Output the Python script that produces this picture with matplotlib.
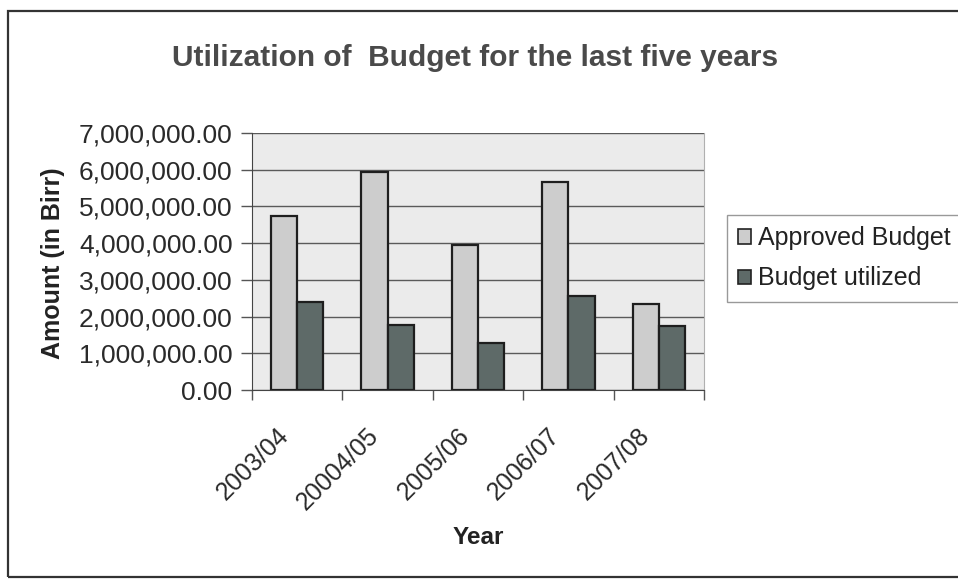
import matplotlib
matplotlib.use("Agg")
import matplotlib.pyplot as plt
import numpy as np
from matplotlib.patches import Patch, Rectangle
from matplotlib.ticker import FuncFormatter, FixedLocator
from matplotlib.transforms import ScaledTranslation

years = ["2003/04", "20004/05", "2005/06", "2006/07", "2007/08"]
approved = [4750000, 5950000, 3950000, 5670000, 2350000]
utilized = [2400000, 1780000, 1270000, 2560000, 1750000]
series_names = ["Approved Budget", "Budget utilized"]

plt.rcParams['font.family'] = ['Liberation Sans', 'DejaVu Sans']

W, H = 958, 581
fig = plt.figure(figsize=(W / 100, H / 100), dpi=100)
fig.patch.set_facecolor('white')

ax = fig.add_axes([252 / W, 1 - 390 / H, (704 - 252) / W, (390 - 133) / H])
ax.set_facecolor('#ebebeb')

light = '#cdcdcd'
dark = '#5e6a68'
x = np.arange(len(years))
w = 0.29
ax.bar(x - w / 2, approved, w, color=light, edgecolor='#1e1e1e', linewidth=1.6, zorder=3)
ax.bar(x + w / 2, utilized, w, color=dark, edgecolor='#1e1e1e', linewidth=1.6, zorder=3)

ax.set_xlim(-0.5, len(years) - 0.5)
ax.set_ylim(0, 7000000)
ax.set_yticks(np.arange(0, 7000001, 1000000))
ax.yaxis.set_major_formatter(FuncFormatter(lambda v, p: f"{v:,.2f}"))
ax.grid(axis='y', color='#5a5a5a', linewidth=1.0, zorder=1)

ax.set_xticks(x)
ax.set_xticklabels(years, rotation=45, ha='right', rotation_mode='default')
ax.xaxis.set_minor_locator(FixedLocator(np.arange(-0.5, len(years), 1.0)))
ax.tick_params(axis='x', which='major', length=0, pad=24, labelsize=18, colors='#2a2a2a')
ax.tick_params(axis='x', which='minor', length=7, width=1, color='#555')
ax.tick_params(axis='y', length=8, width=1, color='#555', pad=6, labelsize=19, labelcolor='#2a2a2a')
for lab in ax.get_xticklabels():
    lab.set_transform(lab.get_transform() + ScaledTranslation(-4 / 100, 0, fig.dpi_scale_trans))

ax.spines['top'].set_visible(False)
ax.spines['right'].set_color('#b0b0b0')
ax.spines['left'].set_color('#444')
ax.spines['bottom'].set_color('#444')

fig.text(53 / W, 1 - 263 / H, "Amount (in Birr)", rotation=90, ha='center', va='center',
         fontsize=18, fontweight='bold', color='#222')
fig.text(478 / W, 1 - 537 / H, "Year", ha='center', va='center',
         fontsize=17.5, fontweight='bold', color='#222')
fig.text(475 / W, 1 - 58 / H, "Utilization of  Budget for the last five years", ha='center', va='center',
         fontsize=21.5, fontweight='bold', color='#4a4a4a')

handles = [Patch(facecolor=light, edgecolor='#222', linewidth=1.2),
           Patch(facecolor=dark, edgecolor='#222', linewidth=1.2)]
leg = fig.legend(handles, series_names, loc='upper left', bbox_to_anchor=(727 / W, 1 - 215 / H),
                 borderaxespad=0, fancybox=False, edgecolor='#999', fontsize=18,
                 handlelength=0.5, handleheight=0.5, handletextpad=0.3, labelspacing=0.65,
                 borderpad=0.45, framealpha=1)
leg.get_frame().set_linewidth(1.0)
for t in leg.get_texts():
    t.set_color('#222')

fig.add_artist(Rectangle((8 / W, 4 / H), 1.0, (577 - 11) / H, transform=fig.transFigure,
                         fill=False, edgecolor='#333', linewidth=1.6))

fig.savefig('out.png', dpi=100)
